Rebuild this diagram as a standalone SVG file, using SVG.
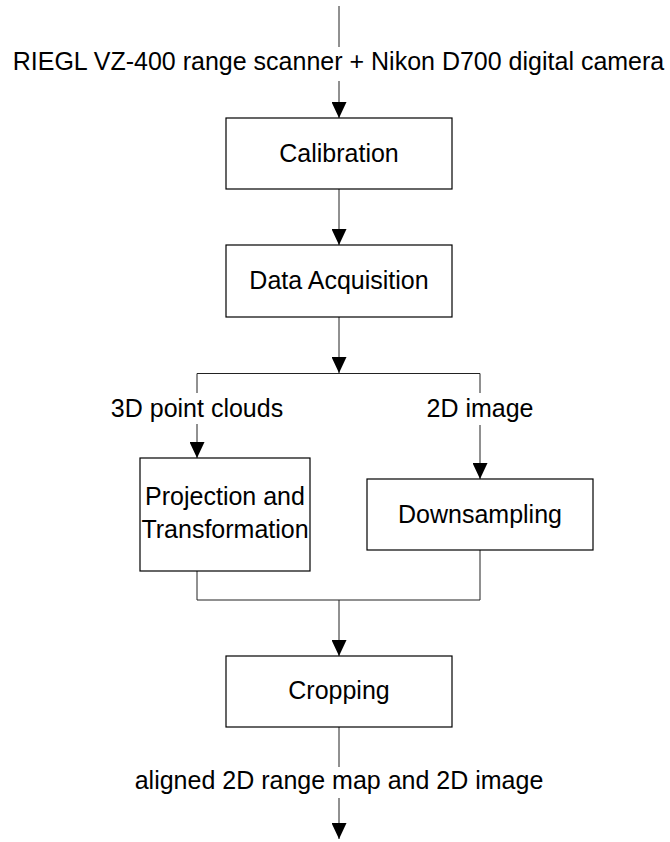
<svg xmlns="http://www.w3.org/2000/svg" width="670" height="842" viewBox="0 0 670 842">
<style>
.box{fill:#fff;stroke:#000;stroke-width:1.2}
.ln{fill:none;stroke:#222;stroke-width:1}
text{font-family:"Liberation Sans",Arial,sans-serif;font-size:25px;fill:#000;text-anchor:middle}
</style>
<defs>
<marker id="ah" markerUnits="userSpaceOnUse" markerWidth="16" markerHeight="15" refX="16" refY="7.5" orient="auto">
<path d="M0,0 L16,7.5 L0,15 Z" fill="#000"/>
</marker>
</defs>
<rect width="670" height="842" fill="#fff"/>
<g id="connectors">
<line class="ln" x1="339" y1="6" x2="339" y2="47"/>
<line class="ln" x1="339" y1="81" x2="339" y2="118" marker-end="url(#ah)"/>
<line class="ln" x1="339" y1="189" x2="339" y2="245" marker-end="url(#ah)"/>
<line class="ln" x1="339" y1="317" x2="339" y2="373" marker-end="url(#ah)"/>
<polyline class="ln" points="197,393 197,373.5 480,373.5 480,393"/>
<line class="ln" x1="197" y1="424" x2="197" y2="458" marker-end="url(#ah)"/>
<line class="ln" x1="480" y1="425" x2="480" y2="479" marker-end="url(#ah)"/>
<polyline class="ln" points="197,571 197,600 480,600 480,550"/>
<line class="ln" x1="339" y1="600" x2="339" y2="656" marker-end="url(#ah)"/>
<line class="ln" x1="339" y1="727" x2="339" y2="767"/>
<line class="ln" x1="339" y1="798" x2="339" y2="839" marker-end="url(#ah)"/>
</g>
<g id="label-input"><text x="338.5" y="70">RIEGL VZ-400 range scanner + Nikon D700 digital camera</text></g>
<g id="node-calibration">
<rect class="box" x="226" y="118" width="226" height="71"/>
<text x="339" y="162">Calibration</text>
</g>
<g id="node-acquisition">
<rect class="box" x="226" y="245" width="226" height="72"/>
<text x="339" y="289">Data Acquisition</text>
</g>
<g id="label-clouds"><text x="197" y="417">3D point clouds</text></g>
<g id="label-image"><text x="480" y="417">2D image</text></g>
<g id="node-projection">
<rect class="box" x="140" y="458" width="170" height="113"/>
<text x="225" y="505">Projection and</text>
<text x="225" y="538">Transformation</text>
</g>
<g id="node-downsampling">
<rect class="box" x="367" y="479" width="226" height="71"/>
<text x="480" y="523">Downsampling</text>
</g>
<g id="node-cropping">
<rect class="box" x="226" y="656" width="226" height="71"/>
<text x="339" y="699">Cropping</text>
</g>
<g id="label-output"><text x="339" y="789">aligned 2D range map and 2D image</text></g>
</svg>
